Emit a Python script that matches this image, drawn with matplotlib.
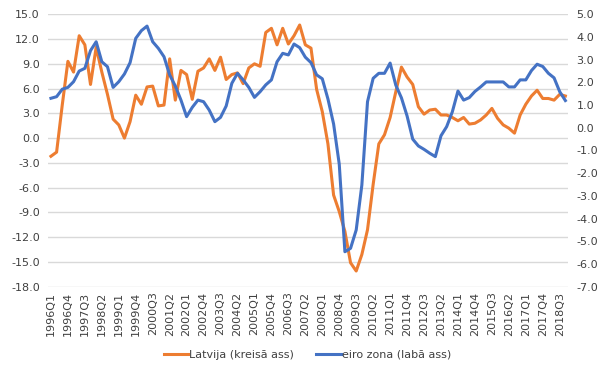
import numpy as np
import matplotlib
matplotlib.use("Agg")
import matplotlib.pyplot as plt
from matplotlib.ticker import FormatStrFormatter

# --- dati ---------------------------------------------------------------
quarters = [f"{y}Q{q}" for y in range(1996, 2019) for q in range(1, 5)]

latvija = [
    -2.2, -1.7, 4.0, 9.3, 8.0, 12.4, 11.3, 6.5, 11.0, 8.0,
    5.3, 2.3, 1.6, 0.0, 2.0, 5.2, 4.1, 6.2, 6.3, 3.9,
    4.0, 9.6, 4.6, 8.2, 7.7, 4.7, 8.1, 8.5, 9.6, 8.2,
    9.8, 7.1, 7.7, 7.9, 6.6, 8.5, 9.0, 8.7, 12.8, 13.3,
    11.3, 13.3, 11.4, 12.4, 13.7, 11.3, 10.9, 5.9, 3.2, -0.7,
    -6.9, -8.9, -11.3, -15.1, -16.1, -14.1, -11.1, -5.6, -0.7, 0.4,
    2.5, 5.6, 8.6, 7.4, 6.5, 3.8, 2.9, 3.4, 3.5, 2.8,
    2.8, 2.5, 2.1, 2.5, 1.7, 1.8, 2.2, 2.8, 3.6, 2.4,
    1.6, 1.2, 0.6, 2.8, 4.1, 5.1, 5.8, 4.8, 4.8, 4.6,
    5.3, 5.1,
]

eiro_zona = [
    1.30, 1.37, 1.70, 1.78, 2.03, 2.50, 2.62, 3.40, 3.79, 2.91,
    2.69, 1.78, 2.03, 2.37, 2.87, 3.94, 4.28, 4.48, 3.79, 3.50,
    3.13, 2.33, 1.84, 1.22, 0.49, 0.90, 1.22, 1.15, 0.78, 0.27,
    0.46, 0.96, 1.96, 2.40, 2.11, 1.78, 1.34, 1.59, 1.89, 2.11,
    2.91, 3.28, 3.21, 3.69, 3.53, 3.11, 2.87, 2.33, 2.16, 1.27,
    0.17, -1.6, -5.46, -5.31, -4.50, -2.52, 1.15, 2.18, 2.40, 2.40,
    2.85, 1.88, 1.32, 0.52, -0.50, -0.80, -0.95, -1.12, -1.27, -0.35,
    0.05, 0.70, 1.62, 1.22, 1.33, 1.60, 1.80, 2.02, 2.02, 2.02,
    2.02, 1.80, 1.80, 2.11, 2.11, 2.52, 2.80, 2.70, 2.40, 2.20,
    1.59, 1.20,
]

# --- zīmējums -----------------------------------------------------------
plt.rcParams['font.family'] = ['DejaVu Sans']
plt.rcParams['font.size'] = 8

fig = plt.figure(figsize=(6.09, 3.76), dpi=100)
ax = fig.add_axes([0.079, 0.2375, 0.854, 0.7245])
ax2 = ax.twinx()

x = np.arange(len(latvija))
l1, = ax.plot(x, latvija, color='#ED7D31', lw=2.2, label='Latvija (kreisā ass)')
l2, = ax2.plot(x, eiro_zona, color='#4472C4', lw=2.2, label='eiro zona (labā ass)')

ax.set_zorder(ax2.get_zorder() - 1)
ax2.patch.set_visible(False)
ax.set_xlim(-0.5, len(latvija) - 0.5)
ax.set_ylim(-18, 15)
ax.set_yticks(np.arange(-18, 15.1, 3))
ax2.set_ylim(-7, 5)
ax2.set_yticks(np.arange(-7, 5.1, 1))
ax.yaxis.set_major_formatter(FormatStrFormatter('%.1f'))
ax2.yaxis.set_major_formatter(FormatStrFormatter('%.1f'))

ax.set_xticks(x[::3])
ax.set_xticklabels(quarters[:len(latvija)][::3], rotation=90)

ax.grid(axis='y', color='#D9D9D9', lw=1)
for a in (ax, ax2):
    for s in a.spines.values():
        s.set_visible(False)
    a.tick_params(length=0, colors='#404040', labelsize=8)
ax.tick_params(axis='y', pad=6)
ax2.tick_params(axis='y', pad=6)

fig.legend(handles=[l1, l2], loc='center', bbox_to_anchor=(0.505, 0.056),
           ncol=2, frameon=False, fontsize=8, handlelength=2.2,
           handletextpad=0.1, columnspacing=2.0, labelcolor='#404040')

fig.savefig('out.png', dpi=100)
